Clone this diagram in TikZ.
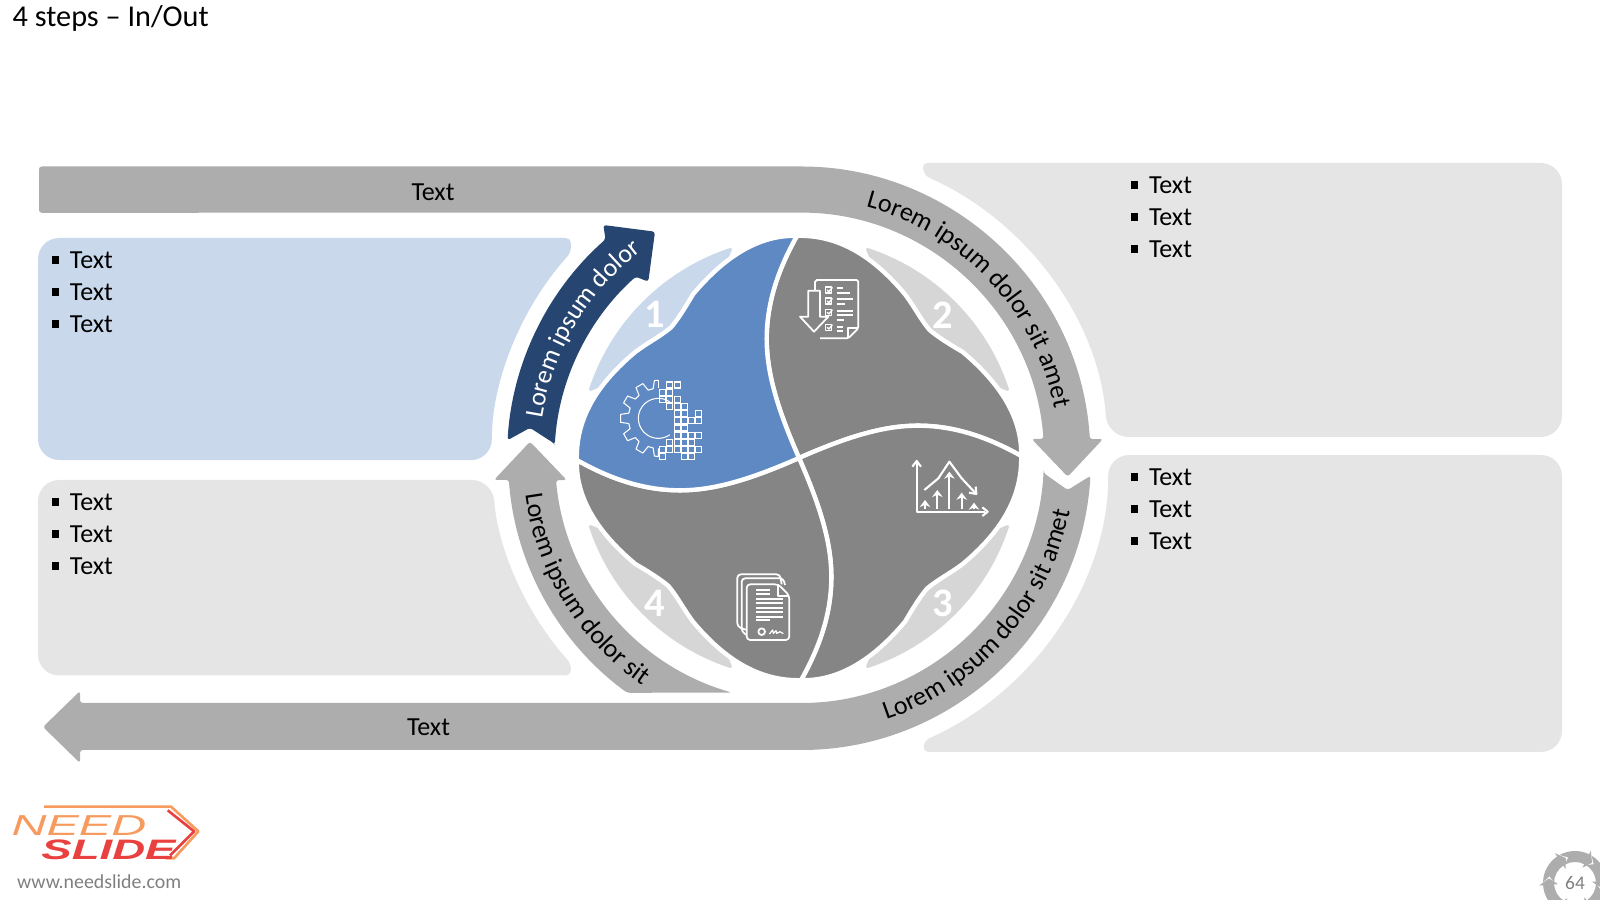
\documentclass[tikz,border=0pt]{standalone}
\usepackage{fontspec}
\setmainfont{Carlito}
\newfontfamily\logofont{Liberation Sans}
\usetikzlibrary{decorations.text,arrows.meta}
\definecolor{bandgray}{HTML}{ADADAD}
\definecolor{panelgray}{HTML}{E5E5E5}
\definecolor{panelblue}{HTML}{C9D8EB}
\definecolor{blobblue}{HTML}{5E89C3}
\definecolor{blobgray}{HTML}{858585}
\definecolor{petalgray}{HTML}{D6D6D6}
\definecolor{navyarrow}{HTML}{264570}
\definecolor{logoorange}{HTML}{F79A5E}
\definecolor{logored}{HTML}{E8413F}
\definecolor{webgray}{HTML}{7F7F7F}
\newcommand{\plainsize}{\fontsize{7.4}{9.07}\selectfont}
\newcommand{\listline}{\rule[1.2pt]{2.2pt}{2.2pt}\hspace{3pt}Text}
\tikzset{
	band/.style = {fill=bandgray},
	panel/.style = {fill=panelgray},
	plain/.style = {inner sep=0pt, font=\plainsize},
	listbox/.style = {plain, anchor=west, align=left},
	number/.style = {inner sep=0pt, text=white, font=\fontsize{11.5}{12}\selectfont\bfseries},
	pixelart/.style = {x=0.03333mm, y=-0.03333mm},
	iconline/.style = {draw=white, line width=0.5pt, line join=round},
	blobshape/.style = {insert path={(0,0) .. controls (-22,50) and (-32,85) .. (-32,118) .. controls (-32,160) and (-16,195) .. (-2,220)
		.. controls (-40,221) and (-74,199) .. (-105,162) .. controls (-112,150) and (-120,137) .. (-127,129)
		.. controls (-138,120) and (-150,114) .. (-162,105) .. controls (-199,74) and (-221,40) .. (-220,-2)
		.. controls (-195,-16) and (-160,-32) .. (-118,-32) .. controls (-85,-32) and (-50,-22) .. (0,0) -- cycle}},
	petalshape/.style = {insert path={(108.2:219.5) arc[start angle=108.2, end angle=161.8, radius=219.5] -- (-110,110) -- cycle}}
}
\begin{document}
\begin{tikzpicture}[x=0.01cm, y=0.01cm]
	\useasboundingbox (0,0) rectangle (1600,900);
	\node[anchor=west, inner sep=0pt, font=\fontsize{8.6}{10}\selectfont] (title) at (12,882) {4 steps -- In/Out};
	\begin{scope}[shift={(799,442)}]
		\fill[panel, rounded corners=1.5pt] (123,295) [rounded corners=6pt] -- (763,295) -- (763,21) -- (3.9:309) [rounded corners=1.5pt] arc[start angle=3.9, end angle=66, radius=309] -- cycle;
		\fill[panel, rounded corners=1.5pt] (124,-294) [rounded corners=6pt] -- (763,-294) -- (763,3) -- (0.55:309) [rounded corners=1.5pt] arc[start angle=0.55, end angle=-66, radius=309] -- cycle;
		\fill[panelblue, rounded corners=6pt] (-761,220) [rounded corners=1.5pt] -- (-228,220) -- (138:307) [rounded corners=6pt] arc[start angle=138, end angle=180.4, radius=307] -- (-761,-2) -- cycle;
		\fill[panel, rounded corners=6pt] (-761,-22) -- (184.1:307) [rounded corners=1.5pt] arc[start angle=184.1, end angle=222, radius=307] -- (-228,-217.5) [rounded corners=6pt] -- (-761,-217.5) -- cycle;
		\fill[band, rounded corners=0.8pt] (-760,291.5) -- (0,291.5) arc[start angle=90, end angle=3.7, radius=291.5] -- (304,19) -- (268.7,-18.7) -- (232.7,19) -- (244.5,19) arc[start angle=4.4, end angle=90, radius=245.2] -- (-760,245.2) -- cycle;
		\fill[band, rounded corners=0.8pt] (-3.5:245) -- (-6.8:270.6) -- (-3.5:292) arc[start angle=-3.5, end angle=-90, radius=292] -- (-719,-292) -- (-719,-305) -- (-756,-269) -- (-719,-233) -- (-719,-245) -- (0,-245) arc[start angle=-90, end angle=-3.5, radius=245] -- cycle;
		\fill[band, rounded corners=0.8pt] (-269,16.3) -- (-232.3,-22) -- (185.2:244) arc[start angle=185.2, end angle=254, radius=244] -- (233.8:291) arc[start angle=233.8, end angle=184.3, radius=291] -- (-305,-22) -- cycle;
		\fill[navyarrow, rounded corners=0.8pt] (176.5:246) -- (173.6:270.7) -- (176.5:292) arc[start angle=176.5, end angle=131.5, radius=292] -- (-195.7,233) -- (-144,226.3) -- (-150.7,176.3) -- (132:244) arc[start angle=132, end angle=176.5, radius=246] -- cycle;
		\foreach \r/\pc/\bc in {-90/petalgray/blobgray,-180/petalgray/blobgray,-270/petalgray/blobgray,0/panelblue/blobblue} {
			\begin{scope}[rotate=\r]
				\fill[\pc, petalshape];
				\draw[\pc, line width=0.85pt, line join=round, petalshape];
				\draw[scale=1.01, draw=white, line width=1.25pt, fill=\bc, blobshape];
			\end{scope}
		}
		\node[number] (num1) at (-144,144) {1};
		\node[number] (num2) at (144,143) {2};
		\node[number] (num3) at (144,-145) {3};
		\node[number] (num4) at (-144,-145) {4};
		\path[decorate, decoration={text along path, text align={center}, text={|\plainsize|Lorem ipsum dolor sit amet}}] (78:260) arc[start angle=78, end angle=8, radius=260];
		\path[decorate, decoration={text along path, text align={center}, text={|\plainsize|Lorem ipsum dolor sit amet}}] (-76:276) arc[start angle=-76, end angle=-6.6, radius=276];
		\path[decorate, decoration={text along path, text align={center}, text={|\plainsize|Lorem ipsum dolor sit}}] (181:276) arc[start angle=181, end angle=242, radius=276];
		\path[decorate, decoration={text along path, text align={center}, text={|\plainsize\color{white}|Lorem ipsum dolor}}] (174:260) arc[start angle=174, end angle=124.4, radius=260];
	\end{scope}
	\node[plain] (topText) at (433,708) {Text};
	\node[plain] (bottomText) at (428.5,173) {Text};
	\node[listbox] (blueList) at (51,608) {\listline\\\listline\\\listline};
	\node[listbox] (grayList) at (51,366) {\listline\\\listline\\\listline};
	\node[listbox] (upperList) at (1130,683) {\listline\\\listline\\\listline};
	\node[listbox] (lowerList) at (1130,391) {\listline\\\listline\\\listline};
	\begin{scope}[shift={(610,525)}, pixelart, draw=white, line width=0.3pt]
		\begin{scope}[shift={(145,130)}, x=0.1mm, y=0.1mm]
			\draw[white, line join=round] (90:38) -- (96:38) -- (100:30)
				\foreach \a in {120,150,180,210,240} { -- ({\a-10}:30) -- ({\a-6}:38) -- ({\a+6}:38) -- ({\a+10}:30) }
				-- (260:30) -- (264:38) -- (270:38) -- (270:30);
			\draw[white] (90:38) -- (90:30);
			\draw[white] (55:20) arc[start angle=55, end angle=305, radius=20];
		\end{scope}
		\foreach \i/\j in {1/0,2/0,0/1,1/1,0/2,1/2,2/2,1/3,2/3,3/3,2/4,3/4,5/4,2/5,3/5,4/5,5/5,2/6,3/6,2/7,3/7,4/7,5/7,1/8,2/8,3/8,4/8,0/9,1/9,2/9,3/9,4/9,5/9,0/10,3/10,4/10} {
			\draw[white] ({158+21.5*\i-9},{30+21.5*\j-9}) rectangle ({158+21.5*\i+9},{30+21.5*\j+9});
		}
	\end{scope}
	\begin{scope}[shift={(795,630)}, pixelart]
		\draw[iconline, rounded corners=0.5pt] (60,60) -- (60,30) -- (190,30) -- (190,175) -- (160,205) -- (75,205);
		\draw[iconline] (190,175) -- (160,175) -- (160,205);
		\draw[iconline] (40,62) -- (75,62) -- (75,140) -- (100,140) -- (57,185) -- (15,140) -- (40,140) -- cycle;
		\foreach \y in {60,93,127,172} {
			\draw[iconline, line width=0.4pt] (92,\y-9) rectangle (110,\y+9);
			\draw[iconline, line width=0.4pt] (96,\y) -- (102,\y+5) -- (112,\y-8);
		}
		\foreach \y/\e in {55/145,70/165,88/175,103/150,122/175,135/175,150/148,170/145,183/145} {
			\draw[iconline] (125,\y) -- (\e,\y);
		}
	\end{scope}
	\begin{scope}[shift={(905,450)}, pixelart]
		\draw[iconline, line width=0.6pt] (35,40) -- (35,185) -- (240,185);
		\draw[iconline, line width=0.6pt] (22,50) -- (35,33) -- (48,50);
		\draw[iconline, line width=0.6pt] (232,172) -- (248,185) -- (232,198);
		\draw[iconline, line width=0.6pt] (58,120) -- (100,85) -- (133,35) -- (170,85) -- (212,130);
		\draw[iconline, line width=0.6pt] (192,128) -- (214,132) -- (212,110);
		\foreach \x/\t in {60/150,97/120,133/65,170/128,207/158} {
			\draw[iconline, line width=0.6pt, -{Stealth[length=2pt,width=3pt]}] (\x,178) -- (\x,\t);
		}
	\end{scope}
	\begin{scope}[shift={(730,335)}, pixelart]
		\draw[iconline, rounded corners=1pt] (50,195) -- (22,185) -- (22,28) -- (150,28) -- (155,58);
		\draw[iconline, rounded corners=1pt] (50,210) -- (35,200) -- (35,40) -- (160,40) -- (165,60);
		\draw[iconline, fill=blobgray, rounded corners=1pt] (50,58) -- (145,58) -- (178,92) -- (178,225) -- (50,225) -- cycle;
		\draw[iconline] (145,58) -- (145,92) -- (178,92);
		\foreach \y/\e in {75/120,88/120,102/160,115/160,128/160,142/160,155/160,165/120} {
			\draw[iconline] (78,\y) -- (\e,\y);
		}
		\draw[iconline] (95,200) circle[radius=10];
		\draw[iconline, line width=0.35pt] (118,207) -- (128,195) -- (130,205) -- (138,197) -- (140,205) -- (150,200) -- (160,206);
	\end{scope}
	\begin{scope}[shift={(0,120)}, pixelart]
		\draw[logoorange, line width=0.75pt, line join=round] (132,80) -- (513,80) -- (595,154) -- (522,235) -- (497,235);
		\draw[logored, line width=0.75pt, line join=round] (503,91) -- (582,154) -- (510,226);
		\node[anchor=base west, inner sep=0pt, text=logoorange] (logoNeed) at (33,165) {\scalebox{1.68}[1]{\logofont\fontsize{8.2}{9}\selectfont\itshape NEED}};
		\node[anchor=base west, inner sep=0pt, text=logored] (logoSlide) at (122,238) {\scalebox{1.62}[1]{\logofont\fontsize{8}{9}\selectfont\bfseries\itshape SLIDE}};
	\end{scope}
	\node[anchor=west, inner sep=0pt, text=webgray, font=\fontsize{5.65}{7}\selectfont] (website) at (16.5,18) {www.needslide.com};
	\begin{scope}
		\clip (1500,0) rectangle (1600,80);
		\begin{scope}[shift={(1575,17)}]
			\foreach \a in {50,110,170,230,290,350} {
				\fill[bandgray] ({\a+69}:21) arc[start angle={\a+69}, end angle={\a+14}, radius=21] -- ({\a+14}:17) -- (\a:26.5) -- ({\a+14}:36) -- ({\a+14}:32) arc[start angle={\a+14}, end angle={\a+69}, radius=32] -- ({\a+55}:26.5) -- cycle;
			}
			\node[inner sep=0pt, text=webgray, font=\fontsize{5.5}{7}\selectfont] (pageNo) at (0,0) {64};
		\end{scope}
	\end{scope}
\end{tikzpicture}
\end{document}
